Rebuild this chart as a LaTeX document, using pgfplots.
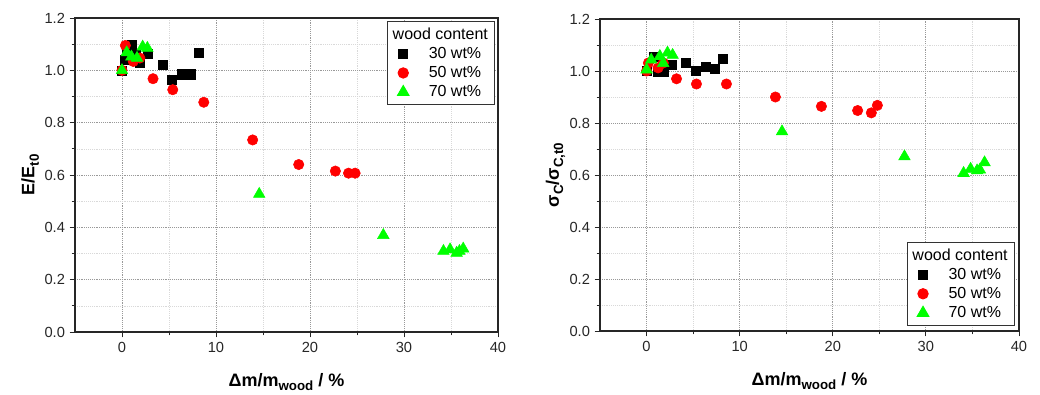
\documentclass[border=0pt]{standalone}
\usepackage{fontspec}
\setmainfont{Liberation Sans}
\usepackage{pgfplots}
\pgfplotsset{compat=1.18}
\definecolor{mygreen}{RGB}{0,255,0}
\definecolor{myred}{RGB}{255,0,0}
\pgfplotsset{
  myaxis/.style={
    scale only axis,
    xmin=-5, xmax=40, ymin=0, ymax=1.2,
    xtick={0,10,20,30,40},
    ytick={0,0.2,0.4,0.6,0.8,1.0,1.2},
    minor x tick num=1, minor y tick num=1,
    yticklabel style={/pgf/number format/fixed,/pgf/number format/precision=1,/pgf/number format/fixed zerofill},
    /pgf/number format/assume math mode=true,
    tick label style={font=\fontsize{11pt}{13pt}\selectfont, text=black!85},
    tick align=outside,
    major tick length=4pt, minor tick length=2.5pt,
    xtick pos=bottom, ytick pos=left,
    axis line style={line width=0.9pt, black!85},
    every tick/.style={black!85, line width=0.7pt},
    grid=both,
    major grid style={densely dotted, gray!80, line width=0.6pt},
    minor grid style={densely dotted, gray!30, line width=0.5pt},
    xlabel style={font=\fontsize{13.5pt}{15pt}\selectfont\bfseries, at={(axis description cs:0.5,-0.16)}, anchor=center},
    ylabel style={font=\fontsize{13.5pt}{15pt}\selectfont\bfseries, at={(axis description cs:-0.106,0.5)}, anchor=center, rotate=0},
    xlabel={Δm/m\raisebox{-0.45ex}{\fontsize{10pt}{11pt}\selectfont wood} / \%},
    legend style={draw=black!80, line width=0.7pt, font=\fontsize{12pt}{14pt}\selectfont, inner xsep=3pt, inner ysep=2.5pt, row sep=0.5pt},
    legend cell align=left,
    legend image code/.code={\draw[#1] plot coordinates {(0.3cm,0cm)};},
  },
  sq/.style={only marks, mark=square*, mark size=3.4pt, black, mark options={fill=black}},
  ci/.style={only marks, mark=*, mark size=3.9pt, myred, mark options={fill=myred}},
  tr/.style={only marks, mark=triangle*, mark size=5pt, mygreen, mark options={fill=mygreen}},
}
\begin{document}
\begin{tikzpicture}
\path[use as bounding box] (0,0) rectangle (780pt,295.5pt);
\begin{axis}[myaxis,
  at={(56.25pt,46.5pt)}, anchor=south west,
  width=317.25pt, height=235.5pt,
  ylabel={E/E\raisebox{-0.45ex}{\fontsize{10pt}{11pt}\selectfont t0}},
  legend style={at={(axis description cs:0.993,0.99)}, anchor=north east},
]
\addlegendimage{empty legend}
\addlegendentry{\hspace{-0.5cm}wood content}
\addplot[sq] coordinates {(0,1.0)(0.3,1.04)(0.5,1.085)(1.0,1.098)(1.5,1.06)(1.9,1.028)(2.7,1.065)(4.3,1.02)(5.3,0.965)(6.4,0.985)(7.3,0.985)(8.2,1.066)};
\addlegendentry{\hspace{0.45cm}30 wt\%}
\addplot[ci] coordinates {(0,1.0)(0.36,1.095)(1.2,1.034)(1.9,1.047)(3.3,0.968)(5.4,0.926)(8.7,0.878)(13.9,0.734)(18.8,0.640)(22.7,0.615)(24.1,0.607)(24.8,0.607)};
\addlegendentry{\hspace{0.45cm}50 wt\%}
\addplot[tr] coordinates {(0,1.0)(0.5,1.068)(1.0,1.052)(1.6,1.047)(2.2,1.09)(2.7,1.085)(14.6,0.527)(27.8,0.37)(34.2,0.309)(34.9,0.315)(35.6,0.302)(35.9,0.309)(36.3,0.318)};
\addlegendentry{\hspace{0.45cm}70 wt\%}
\end{axis}
\begin{axis}[myaxis,
  at={(450pt,47.25pt)}, anchor=south west,
  width=314.25pt, height=234pt,
  ylabel={σ\raisebox{-0.45ex}{\fontsize{10pt}{11pt}\selectfont C}/σ\raisebox{-0.45ex}{\fontsize{10pt}{11pt}\selectfont C,t0}},
  legend style={at={(axis description cs:0.99,0.016)}, anchor=south east},
]
\addlegendimage{empty legend}
\addlegendentry{\hspace{-0.5cm}wood content}
\addplot[sq] coordinates {(0,1.0)(0.75,1.055)(1.25,0.998)(1.8,0.998)(2.7,1.023)(4.25,1.03)(5.27,1.0)(6.34,1.015)(7.28,1.008)(8.15,1.046)};
\addlegendentry{\hspace{0.45cm}30 wt\%}
\addplot[ci] coordinates {(0,1.0)(0.2,1.031)(1.24,1.012)(1.8,1.031)(3.22,0.970)(5.36,0.950)(8.58,0.950)(13.84,0.900)(18.78,0.864)(22.67,0.848)(24.14,0.839)(24.79,0.868)};
\addlegendentry{\hspace{0.45cm}50 wt\%}
\addplot[tr] coordinates {(0,1.005)(0.5,1.043)(1.43,1.057)(1.79,1.03)(2.25,1.07)(2.8,1.061)(14.55,0.767)(27.7,0.671)(34.05,0.607)(34.8,0.623)(35.5,0.617)(35.8,0.62)(36.3,0.648)};
\addlegendentry{\hspace{0.45cm}70 wt\%}
\end{axis}
\end{tikzpicture}
\end{document}
